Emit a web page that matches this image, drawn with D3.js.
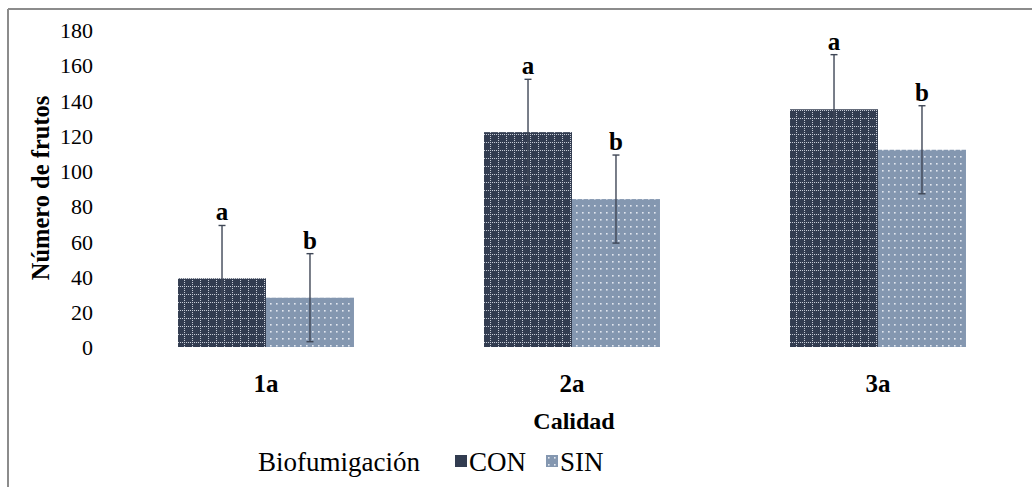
<!DOCTYPE html>
<html>
<head>
<meta charset="utf-8">
<script src="https://cdn.jsdelivr.net/npm/d3@7"></script>
</head>
<body style="margin:0;padding:0;background:#fff;">
<svg id="chart" width="1032" height="487" style="display:block;" font-family="Liberation Serif"></svg>
<script>
// Fruit counts per quality class, with and without biofumigation
const categories = ["1a", "2a", "3a"];
const seriesNames = ["CON", "SIN"];
const conValues = [39, 122, 135];
const sinValues = [28, 84, 112];
const conErrors = [30, 30, 31];
const sinErrors = [25, 25, 25];
const conLetters = ["a", "a", "a"];
const sinLetters = ["b", "b", "b"];
const yTicks = [0, 20, 40, 60, 80, 100, 120, 140, 160, 180];

const serifFace = "Liberation Serif";
const svg = d3.select("#chart");

// Fill patterns for the two series
const defs = svg.append("defs");
const pCon = defs.append("pattern").attr("id", "patCon")
  .attr("patternUnits", "userSpaceOnUse").attr("width", 8).attr("height", 8);
pCon.append("rect").attr("width", 8).attr("height", 8).attr("fill", "#323c50");
pCon.append("line").attr("x1", 0).attr("x2", 8).attr("y1", 6.5).attr("y2", 6.5)
  .attr("stroke", "#c9ced8").attr("stroke-width", 1).attr("stroke-dasharray", "1,1");
pCon.append("line").attr("x1", 6.5).attr("x2", 6.5).attr("y1", 0).attr("y2", 8)
  .attr("stroke", "#c9ced8").attr("stroke-width", 1).attr("stroke-dasharray", "1,1");

const pSin = defs.append("pattern").attr("id", "patSin")
  .attr("patternUnits", "userSpaceOnUse").attr("width", 6).attr("height", 7);
pSin.append("rect").attr("width", 6).attr("height", 7).attr("fill", "#8497b0");
pSin.append("rect").attr("x", 2).attr("y", 2).attr("width", 1.6).attr("height", 1.6).attr("fill", "#e4e9f1");

// Frame
svg.append("line").attr("x1", 8).attr("x2", 1032).attr("y1", 9).attr("y2", 9)
  .attr("stroke", "#8c8c8c").attr("stroke-width", 2);
svg.append("line").attr("x1", 8).attr("x2", 8).attr("y1", 9).attr("y2", 487)
  .attr("stroke", "#8c8c8c").attr("stroke-width", 2);

// Scales
const x = d3.scaleBand().domain(categories).range([113, 1031])
  .paddingInner(0.425).paddingOuter(0.2125);
const xs = d3.scaleBand().domain(seriesNames).range([0, x.bandwidth()]);
const y = d3.scaleLinear().domain([0, 180]).range([347, 30]);

// Y axis labels (no line or ticks)
const yAxis = d3.axisLeft(y).tickValues(yTicks).tickSize(0).tickPadding(0);
const gy = svg.append("g").attr("transform", "translate(93,0)").call(yAxis)
  .attr("font-family", serifFace).attr("font-size", 22);
gy.select(".domain").remove();
gy.selectAll("text").attr("dy", "0.35em").attr("fill", "#000");

// X axis labels
const xAxis = d3.axisBottom(x).tickSize(0).tickPadding(0);
const gx = svg.append("g").attr("transform", "translate(0,372)").call(xAxis)
  .attr("font-family", serifFace).attr("font-size", 25).attr("font-weight", "bold");
gx.select(".domain").remove();
gx.selectAll("text").attr("dy", "0.78em").attr("fill", "#000");

const rows = categories.map((c, i) => ({
  cat: c,
  items: [
    { s: "CON", v: conValues[i], e: conErrors[i], l: conLetters[i], fill: "url(#patCon)" },
    { s: "SIN", v: sinValues[i], e: sinErrors[i], l: sinLetters[i], fill: "url(#patSin)" }
  ]
}));

const groups = svg.selectAll("g.cat").data(rows).enter().append("g")
  .attr("class", "cat").attr("transform", d => `translate(${x(d.cat)},0)`);

const items = groups.selectAll("g.item").data(d => d.items).enter().append("g").attr("class", "item");

items.append("rect")
  .attr("x", d => xs(d.s))
  .attr("width", xs.bandwidth())
  .attr("y", d => y(d.v))
  .attr("height", d => y(0) - y(d.v))
  .attr("fill", d => d.fill);

// Error bars
const cx = d => xs(d.s) + xs.bandwidth() / 2;
const errColor = "#3f4756";
items.append("line")
  .attr("x1", cx).attr("x2", cx)
  .attr("y1", d => y(d.v + d.e)).attr("y2", d => y(Math.max(0, d.v - d.e)))
  .attr("stroke", errColor).attr("stroke-width", 1.4);
items.append("line")
  .attr("x1", d => cx(d) - 3.5).attr("x2", d => cx(d) + 3.5)
  .attr("y1", d => y(d.v + d.e)).attr("y2", d => y(d.v + d.e))
  .attr("stroke", errColor).attr("stroke-width", 1.4);
items.filter(d => d.v - d.e > 0).append("line")
  .attr("x1", d => cx(d) - 3.5).attr("x2", d => cx(d) + 3.5)
  .attr("y1", d => y(d.v - d.e)).attr("y2", d => y(d.v - d.e))
  .attr("stroke", errColor).attr("stroke-width", 1.4);

// Significance letters
items.append("text")
  .attr("x", cx)
  .attr("y", d => y(d.v + d.e) - 5)
  .attr("text-anchor", "middle")
  .attr("font-family", serifFace)
  .attr("font-size", 25).attr("font-weight", "bold")
  .text(d => d.l);

// Axis titles
svg.append("text").attr("x", 574).attr("y", 429).attr("text-anchor", "middle")
  .attr("font-family", serifFace)
  .attr("font-size", 24).attr("font-weight", "bold").text("Calidad");
svg.append("text").attr("transform", "translate(49,188) rotate(-90)")
  .attr("text-anchor", "middle").attr("font-family", serifFace)
  .attr("font-size", 24.5).attr("font-weight", "bold")
  .text("Número de frutos");

// Legend
const legend = svg.append("g").attr("font-family", serifFace).attr("font-size", 27);
legend.append("text").attr("x", 258).attr("y", 471).text("Biofumigación");
const legItems = [
  { name: seriesNames[0], fill: "#323c50", x: 455 },
  { name: seriesNames[1], fill: "url(#patSin)", x: 546 }
];
legItems.forEach(d => {
  legend.append("rect").attr("x", d.x).attr("y", 455).attr("width", 12).attr("height", 12).attr("fill", d.fill);
  legend.append("text").attr("x", d.x + 14).attr("y", 471).text(d.name);
});
</script>
</body>
</html>
